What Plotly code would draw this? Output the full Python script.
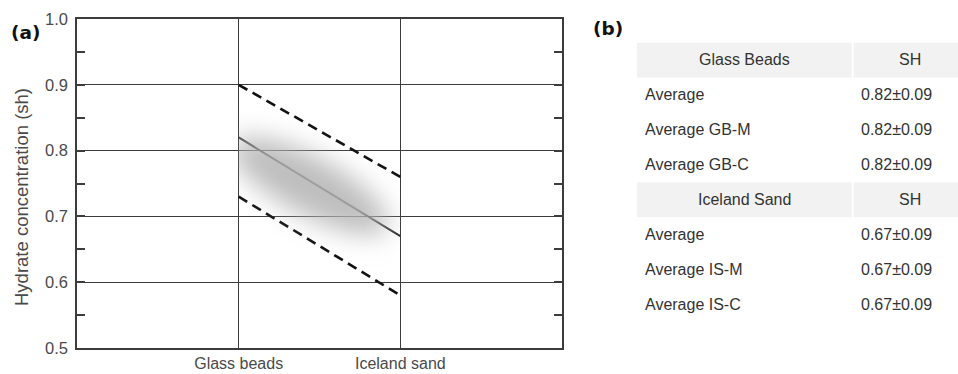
import base64
import math
import plotly.graph_objects as go

# ---------------- data ----------------
categories = ["Glass beads", "Iceland sand"]
cat_pos = [1, 2]
mean_sh = [0.82, 0.67]
upper_sh = [0.90, 0.76]
lower_sh = [0.73, 0.58]

y_ticks = [0.5, 0.6, 0.7, 0.8, 0.9, 1.0]
y_ticktext = ["0.5", "0.6", "0.7", "0.8", "0.9", "1.0"]

table_header_gb = ["Glass Beads", "SH"]
table_header_is = ["Iceland Sand", "SH"]
gb_labels = ["Average", "Average GB-M", "Average GB-C"]
gb_values = ["0.82±0.09", "0.82±0.09", "0.82±0.09"]
is_labels = ["Average", "Average IS-M", "Average IS-C"]
is_values = ["0.67±0.09", "0.67±0.09", "0.67±0.09"]

# ---------------- style ----------------
W, H = 958, 374
FONT = "Liberation Sans, Arial, sans-serif"
GRID = "#3c3c3c"
TXT = "#333333"
TICKTXT = "#4a4a4a"

fig = go.Figure()

# dashed bounds
for ys in (upper_sh, lower_sh):
    fig.add_trace(go.Scatter(x=cat_pos, y=ys, mode="lines",
                             line=dict(color="#111111", width=2.6, dash="10px,6px"),
                             hoverinfo="skip", showlegend=False))
# mean line
fig.add_trace(go.Scatter(x=cat_pos, y=mean_sh, mode="lines",
                         line=dict(color="#2e2e2e", width=2),
                         hoverinfo="skip", showlegend=False))

# soft halo around mean line (blurred ellipse image)
x_dom = [77 / W, 562 / W]
y_dom = [1 - 348 / H, 1 - 19 / H]
px_per_x = (x_dom[1] - x_dom[0]) * W / 3.0
px_per_y = (y_dom[1] - y_dom[0]) * H / 0.5
img_top = mean_sh[0] + 0.08
img_bot = mean_sh[1] - 0.09
img_w = (cat_pos[1] - cat_pos[0]) * px_per_x
img_h = (img_top - img_bot) * px_per_y
t = 0.44
cx = t * img_w
cy = (img_top - (mean_sh[0] + t * (mean_sh[1] - mean_sh[0]))) * px_per_y + 5
ang = math.degrees(math.atan2((mean_sh[0] - mean_sh[1]) * px_per_y, img_w)) - 3
svg = f'''<svg xmlns="http://www.w3.org/2000/svg" width="{img_w:.1f}" height="{img_h:.1f}" viewBox="0 0 {img_w:.1f} {img_h:.1f}" preserveAspectRatio="none">
<defs><filter id="b" x="-60%" y="-60%" width="220%" height="220%"><feGaussianBlur stdDeviation="13"/></filter></defs>
<ellipse cx="{cx:.1f}" cy="{cy:.1f}" rx="88" ry="29" transform="rotate({ang:.2f} {cx:.1f} {cy:.1f})" fill="#b3b3b3" fill-opacity="0.86" filter="url(#b)"/>
</svg>'''
src = "data:image/svg+xml;base64," + base64.b64encode(svg.encode()).decode()

images = [dict(source=src, xref="x", yref="y", x=cat_pos[0], y=img_top,
               sizex=cat_pos[1] - cat_pos[0], sizey=img_top - img_bot,
               sizing="stretch", xanchor="left", yanchor="top", layer="above")]

# ---------------- table (b) on its own hidden axes ----------------
rows = ([(table_header_gb, True)] + [([a, b], False) for a, b in zip(gb_labels, gb_values)]
        + [(table_header_is, True)] + [([a, b], False) for a, b in zip(is_labels, is_values)])
n_rows = len(rows)
COL1_END, COL2_START, COL2_END = 0.669, 0.675, 1.06
shapes = []
annotations = []
for k, (cells, is_head) in enumerate(rows):
    if is_head:
        for x0, x1 in ((0.0, COL1_END), (COL2_START, COL2_END)):
            shapes.append(dict(type="rect", xref="x2", yref="y2", x0=x0, x1=x1,
                               y0=k - 0.5, y1=k + 0.5, fillcolor="#f2f2f2",
                               line=dict(width=0), layer="below"))
        annotations.append(dict(xref="x2", yref="y2", x=COL1_END / 2, y=k, text=cells[0],
                                showarrow=False, xanchor="center", yanchor="middle",
                                font=dict(family=FONT, size=16, color=TXT)))
        annotations.append(dict(xref="x2", yref="y2", x=0.85, y=k, text=cells[1],
                                showarrow=False, xanchor="center", yanchor="middle",
                                font=dict(family=FONT, size=16, color=TXT)))
    else:
        annotations.append(dict(xref="x2", yref="y2", x=0.019, y=k, text=cells[0],
                                showarrow=False, xanchor="left", yanchor="middle",
                                font=dict(family=FONT, size=16, color=TXT)))
        annotations.append(dict(xref="x2", yref="y2", x=0.692, y=k, text=cells[1],
                                showarrow=False, xanchor="left", yanchor="middle",
                                font=dict(family=FONT, size=16, color=TXT)))

# panel labels and y title
annotations += [
    dict(xref="paper", yref="paper", x=9 / W, y=1 - 32 / H, text="<b>(a)</b>", showarrow=False,
         xanchor="left", yanchor="middle", font=dict(family="DejaVu Sans", size=18.5, color="#111")),
    dict(xref="paper", yref="paper", x=591 / W, y=1 - 29 / H, text="<b>(b)</b>", showarrow=False,
         xanchor="left", yanchor="middle", font=dict(family="DejaVu Sans", size=18.5, color="#111")),
    dict(xref="paper", yref="paper", x=21 / W, y=1 - 197 / H, text="Hydrate concentration (sh)",
         showarrow=False, textangle=-90, xanchor="center", yanchor="middle",
         font=dict(family=FONT, size=18.5, color=TICKTXT)),
]

fig.update_layout(
    width=W, height=H, margin=dict(l=0, r=0, t=0, b=0, autoexpand=False),
    plot_bgcolor="white", paper_bgcolor="white",
    xaxis=dict(domain=x_dom, range=[0, 3], tickvals=cat_pos, ticktext=categories,
               showgrid=True, gridcolor=GRID, gridwidth=1.3, zeroline=False,
               showline=True, linecolor=GRID, linewidth=1.5, mirror=True,
               ticks="", ticklabelstandoff=0, automargin=False,
               tickfont=dict(family=FONT, size=16, color=TICKTXT), fixedrange=True),
    yaxis=dict(domain=y_dom, range=[0.5, 1.0], tickvals=y_ticks, ticktext=y_ticktext,
               showgrid=True, gridcolor=GRID, gridwidth=1.3, zeroline=False,
               showline=True, linecolor=GRID, linewidth=1.5, mirror="ticks",
               ticks="inside", ticklen=8, tickcolor=GRID, tickwidth=1.5,
               minor=dict(dtick=0.05, tick0=0.5, ticks="inside", ticklen=8,
                          tickcolor=GRID, tickwidth=1.5, showgrid=False),
               ticklabelstandoff=4, automargin=False,
               tickfont=dict(family=FONT, size=16.5, color=TICKTXT), fixedrange=True),
    xaxis2=dict(domain=[637 / W, 1.0], range=[0, 1], visible=False, fixedrange=True,
                anchor="y2", automargin=False),
    yaxis2=dict(domain=[1 - 322 / H, 1 - 42.5 / H], range=[n_rows - 0.5, -0.5],
                visible=False, fixedrange=True, anchor="x2", automargin=False),
    shapes=shapes, annotations=annotations, images=images,
)

fig.write_html("out.html")
